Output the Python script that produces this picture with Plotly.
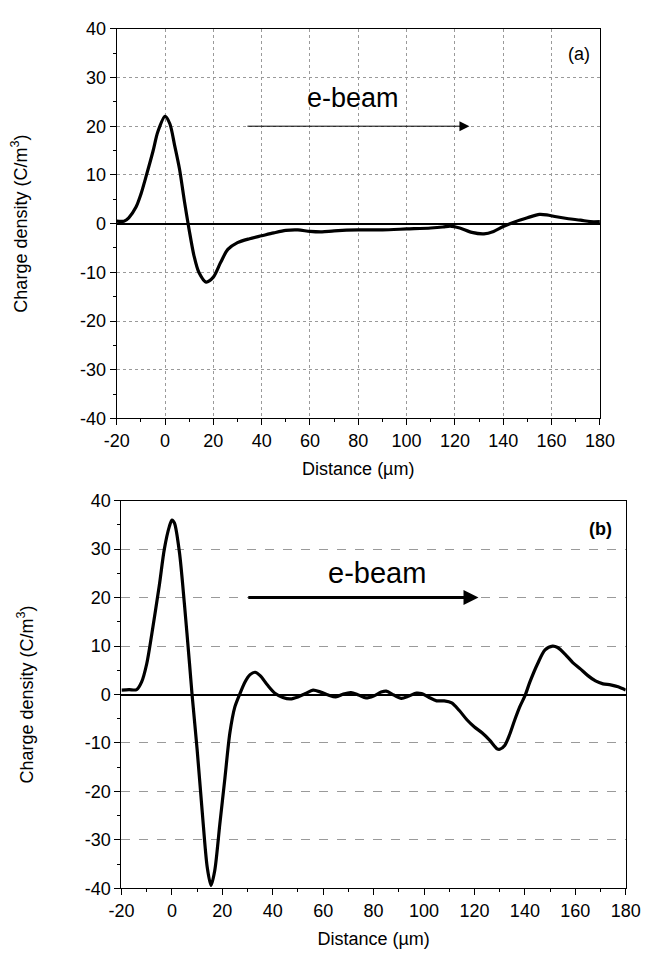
import plotly.graph_objects as go

# Panel (a)
xa = [-20, -17, -15, -12, -10, -8, -5, -3, 0, 2, 4, 6, 8, 10, 12, 14, 17, 20, 23, 26, 30, 35, 40, 45, 50, 55, 60, 65, 70, 80, 90, 100, 110, 115, 118, 122, 127, 132, 136, 140, 145, 150, 155, 158, 162, 167, 172, 176, 180]
ya = [0.5, 0.5, 1.2, 3.4, 6.0, 9.4, 14.8, 18.8, 22.0, 20.5, 16.0, 11.2, 4.7, -1.3, -6.6, -10.0, -12.0, -11.0, -8.0, -5.3, -3.9, -3.1, -2.5, -1.9, -1.4, -1.3, -1.6, -1.7, -1.5, -1.3, -1.3, -1.1, -0.9, -0.7, -0.5, -0.9, -1.8, -2.1, -1.6, -0.6, 0.4, 1.2, 1.9, 1.8, 1.4, 1.0, 0.7, 0.4, 0.4]

# Panel (b)
xb = [-20, -17, -14, -12, -10, -8, -5, -3, -1, 0, 1, 3, 5, 7, 8, 10, 12, 14, 15.5, 17, 19, 21, 23, 25, 27, 29, 31, 33, 35, 38, 41, 44, 47, 50, 53, 56, 59, 62, 65, 68, 71, 74, 77, 80, 83, 85, 88, 91, 94, 97, 99, 102, 105, 108, 111, 114, 117, 120, 123, 126, 129, 130, 132, 134, 136, 138, 140, 142, 145, 148, 151, 153, 156, 159, 162, 165, 168, 171, 174, 177, 180]
yb = [0.9, 1.0, 1.0, 2.6, 6.3, 12.4, 22.5, 30.0, 34.7, 36.0, 35.4, 29.3, 18.5, 6.3, 0.0, -11.3, -24.0, -35.6, -39.4, -36.3, -26.8, -17.4, -7.9, -2.5, 0.2, 2.6, 4.1, 4.6, 3.9, 1.9, 0.2, -0.6, -0.9, -0.5, 0.2, 0.9, 0.5, -0.1, -0.5, 0.1, 0.4, -0.1, -0.7, -0.3, 0.5, 0.7, -0.1, -0.8, -0.3, 0.3, 0.2, -0.6, -1.3, -1.3, -1.7, -3.3, -5.2, -6.7, -7.9, -9.4, -11.2, -11.3, -10.5, -8.2, -5.2, -2.5, -0.3, 2.6, 6.3, 9.2, 10.0, 9.7, 8.3, 6.6, 5.3, 3.9, 2.8, 2.2, 2.0, 1.6, 0.9]

x_ticks = [-20, 0, 20, 40, 60, 80, 100, 120, 140, 160, 180]
x_labels = ["-20", "0", "20", "40", "60", "80", "100", "120", "140", "160", "180"]
y_ticks = [-40, -30, -20, -10, 0, 10, 20, 30, 40]
y_labels = ["-40", "-30", "-20", "-10", "0", "10", "20", "30", "40"]

FONT = "Liberation Sans, Arial, sans-serif"
TICK = 18
TITLE = 18

fig = go.Figure()
fig.add_trace(go.Scatter(x=xa, y=ya, mode="lines", line=dict(color="black", width=3.2, shape="spline", smoothing=0.8),
                         xaxis="x", yaxis="y", showlegend=False))
fig.add_trace(go.Scatter(x=xb, y=yb, mode="lines", line=dict(color="black", width=3.2, shape="spline", smoothing=0.8),
                         xaxis="x2", yaxis="y2", showlegend=False))

def xax(domain, anchor, grid, griddash):
    return dict(domain=domain, anchor=anchor, range=[-20, 180], tickvals=x_ticks, ticktext=x_labels,
                showline=True, linecolor="black", linewidth=1, mirror=True,
                ticks="outside", ticklen=6, tickwidth=1, tickcolor="black",
                minor=dict(ticks="outside", ticklen=3, dtick=10, tick0=0, tickcolor="black", showgrid=False),
                showgrid=grid, gridcolor="#9a9a9a", griddash=griddash, gridwidth=1,
                zeroline=False, tickfont=dict(size=TICK, color="black", family=FONT),
                title=dict(text="Distance (µm)", font=dict(size=TITLE, color="black", family=FONT), standoff=12))

def yax(domain, anchor, griddash, standoff):
    return dict(domain=domain, anchor=anchor, range=[-40, 40], tickvals=y_ticks, ticktext=y_labels,
                showline=True, linecolor="black", linewidth=1, mirror=True,
                ticks="outside", ticklen=6, tickwidth=1, tickcolor="black",
                minor=dict(ticks="outside", ticklen=3, dtick=5, tick0=0, tickcolor="black", showgrid=False),
                showgrid=True, gridcolor="#9a9a9a", griddash=griddash, gridwidth=1,
                zeroline=True, zerolinecolor="black", zerolinewidth=1.5,
                tickfont=dict(size=TICK, color="black", family=FONT),
                title=dict(text="Charge density (C/m<sup>3</sup>)", font=dict(size=TITLE, color="black", family=FONT), standoff=standoff))

fig.update_layout(
    width=649, height=955, autosize=False,
    margin=dict(l=0, r=0, t=0, b=0),
    paper_bgcolor="white", plot_bgcolor="white",
    font=dict(family=FONT, color="black"),
    xaxis=xax([100/649, 605/649], "y", True, "dot"),
    yaxis=yax([1-409/955, 1-11/955], "x", "dot", 48),
    xaxis2=xax([105/649, 632/649], "y2", False, "dash"),
    yaxis2=yax([1-889/955, 1-493/955], "x2", "dash", 46),
    annotations=[
        dict(x=126, y=20, ax=33.5, ay=20, xref="x", yref="y", axref="x", ayref="y",
             showarrow=True, arrowhead=2, arrowsize=2, arrowwidth=1, arrowcolor="black", text=""),
        dict(x=78, y=25.7, xref="x", yref="y", text="e-beam", showarrow=False,
             font=dict(size=27, color="black", family=FONT)),
        dict(x=171.3, y=34.8, xref="x", yref="y", text="(a)", showarrow=False,
             font=dict(size=18, color="black", family=FONT)),
        dict(x=121.6, y=20, ax=29.7, ay=20, xref="x2", yref="y2", axref="x2", ayref="y2",
             showarrow=True, arrowhead=2, arrowsize=1, arrowwidth=3, arrowcolor="black", text=""),
        dict(x=81.5, y=25, xref="x2", yref="y2", text="e-beam", showarrow=False,
             font=dict(size=29, color="black", family=FONT)),
        dict(x=169.8, y=34.1, xref="x2", yref="y2", text="<b>(b)</b>", showarrow=False,
             font=dict(size=18, color="black", family=FONT)),
    ],
)

fig.write_html("out.html")
